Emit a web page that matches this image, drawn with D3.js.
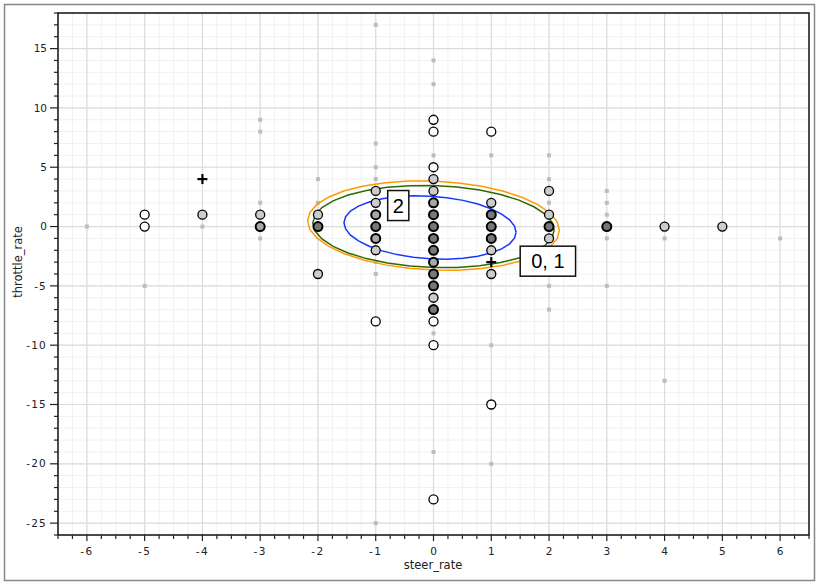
<!DOCTYPE html>
<html><head><meta charset="utf-8">
<script src="https://cdn.jsdelivr.net/npm/d3@7"></script>
<style>body{margin:0;background:#fff}svg{display:block}</style>
</head><body><svg id="c" width="819" height="582"></svg>
<script>
// background sample points (small gray squares): [steer_rate, throttle_rate]
const bgX = [-6,-5,-4,-3,-3,-3,-3,-2,-2,-1,-1,-1,-1,-1,-1,-1,0,0,0,0,0,1,1,1,2,2,2,2,2,3,3,3,3,3,4,4,6];
const bgY = [0,-5,0,9,8,2,-1,4,2,17,7,5,4,-3,-4,-25,14,12,6,-9,-19,6,-10,-20,6,4,2,-5,-7,3,2,1,-1,-5,-1,-13,-1];
// open circle points and their overlap density level (0..3)
const ptX = [-5,-5,-4,-3,-3,-2,-2,-2,-1,-1,-1,-1,-1,-1,-1,0,0,0,0,0,0,0,0,0,0,0,0,0,0,0,0,0,0,1,1,1,1,1,1,1,1,2,2,2,2,3,4,5];
const ptY = [1,0,1,1,0,1,0,-4,3,2,1,0,-1,-2,-8,9,8,5,4,3,2,1,0,-1,-2,-3,-4,-5,-6,-7,-8,-10,-23,8,2,1,0,-1,-2,-4,-15,3,1,0,-1,0,0,0];
const ptLevel = [0,0,1,1,2,1,3,1,1,1,2,3,2,1,0,0,0,0,1,1,2,3,3,3,3,2,3,3,1,3,0,0,0,0,1,3,3,3,1,1,0,1,1,3,1,3,1,1];
// plus markers
const plusX = [-4,1];
const plusY = [4,-3];
// contour ellipses: centre x, centre y, half-width, half-height, shear
const ellNames = ["orange","green","blue"];
const ellCx = [0.0, 0.0, -0.06];
const ellCy = [0.08, 0.0, -0.08];
const ellA = [2.18, 2.09, 1.49];
const ellB = [3.75, 3.45, 2.64];
const ellShear = [-0.4, -0.3, -0.4];
const ellColor = ["#ff9a00", "#2f6a00", "#1438ff"];
// cluster labels
const labText = ["2", "0, 1"];
const labX = [-0.61, 1.98];
const labY = [1.77, -2.92];
// ticks
const xTicks = [-6,-5,-4,-3,-2,-1,0,1,2,3,4,5,6];
const yTicks = [-25,-20,-15,-10,-5,0,5,10,15];

const svg = d3.select("#c");
const L = 58, R = 809, T = 13, B = 535;
const x = d3.scaleLinear().domain([-6.5, 6.5]).range([L, R]);
const y = d3.scaleLinear().domain([-26, 18]).range([B, T]);

// outer frame
svg.append("rect").attr("x",4.5).attr("y",4.5).attr("width",810).attr("height",576)
  .attr("fill","none").attr("stroke","#888").attr("stroke-width",1.5);

// minor grid
const g = svg.append("g");
d3.range(-6.5, 6.51, 0.25).forEach(v => g.append("line").attr("x1",x(v)).attr("x2",x(v)).attr("y1",T).attr("y2",B).attr("stroke","#f1f1f1").attr("stroke-width",1));
d3.range(-26, 18.01, 1).forEach(v => g.append("line").attr("y1",y(v)).attr("y2",y(v)).attr("x1",L).attr("x2",R).attr("stroke","#f1f1f1").attr("stroke-width",1));
// major grid
xTicks.forEach(v => g.append("line").attr("x1",x(v)).attr("x2",x(v)).attr("y1",T).attr("y2",B).attr("stroke","#dcdcdc").attr("stroke-width",1.2));
yTicks.forEach(v => g.append("line").attr("y1",y(v)).attr("y2",y(v)).attr("x1",L).attr("x2",R).attr("stroke","#dcdcdc").attr("stroke-width",1.2));

// background points
svg.append("g").selectAll("rect").data(bgX.map((d,i)=>[d,bgY[i]])).join("rect")
  .attr("x", d => x(d[0]) - 2).attr("y", d => y(d[1]) - 2).attr("width",4).attr("height",4)
  .attr("fill","#bdbdbd");

// ellipses
const lineGen = d3.line().x(d=>x(d[0])).y(d=>y(d[1]));
ellNames.forEach((n,i) => {
  const pts = d3.range(0, 2*Math.PI + 0.001, Math.PI/16).map(t => [
    ellCx[i] + ellA[i]*Math.cos(t),
    ellCy[i] + ellB[i]*Math.sin(t) + ellShear[i]*Math.cos(t)
  ]);
  svg.append("path").attr("d", lineGen(pts)).attr("fill","none")
    .attr("stroke", ellColor[i]).attr("stroke-width",1.5);
});

// circles
const fills = ["#ffffff","#cccccc","#a8a8a8","#777777"];
svg.append("g").selectAll("circle").data(ptX.map((d,i)=>[d,ptY[i],ptLevel[i]])).join("circle")
  .attr("cx", d => x(d[0])).attr("cy", d => y(d[1])).attr("r", 4.5)
  .attr("fill", d => fills[d[2]]).attr("stroke","#000")
  .attr("stroke-width", d => d[2] >= 2 ? 2 : 1.3);

// plus markers
const pg = svg.append("g");
plusX.forEach((px,i) => {
  const cx = x(px), cy = y(plusY[i]);
  pg.append("line").attr("x1",cx-5).attr("x2",cx+5).attr("y1",cy).attr("y2",cy).attr("stroke","#000").attr("stroke-width",2.2);
  pg.append("line").attr("x1",cx).attr("x2",cx).attr("y1",cy-5).attr("y2",cy+5).attr("stroke","#000").attr("stroke-width",2.2);
});

// labels
const labPad = [5, 11];
labText.forEach((t,i) => {
  const lg = svg.append("g");
  const tx = lg.append("text").attr("x", x(labX[i])).attr("y", y(labY[i]))
    .attr("text-anchor","middle").attr("dominant-baseline","central")
    .attr("font-family","Liberation Sans, Arial, sans-serif").attr("font-size",20).text(t);
  const bb = tx.node().getBBox();
  lg.insert("rect","text").attr("x", bb.x - labPad[i]).attr("y", y(labY[i]) - 15)
    .attr("width", bb.width + 2*labPad[i]).attr("height", 30)
    .attr("fill","#fff").attr("stroke","#111").attr("stroke-width",1.5);
});

// plot frame
svg.append("rect").attr("x",L).attr("y",T).attr("width",R-L).attr("height",B-T)
  .attr("fill","none").attr("stroke","#111").attr("stroke-width",1.5);

// axes
const font = "DejaVu Sans, Verdana, sans-serif";
const xa = svg.append("g").attr("transform",`translate(0,${B})`);
d3.range(-6.5, 6.51, 0.25).forEach(v => {
  const major = Math.abs(v - Math.round(v)) < 1e-6;
  xa.append("line").attr("x1",x(v)).attr("x2",x(v)).attr("y1",0).attr("y2", major ? 6 : 4).attr("stroke","#222").attr("stroke-width",1.2);
});
xTicks.forEach(v => xa.append("text").attr("x", x(v)).attr("y", 20).attr("text-anchor","middle")
  .attr("font-family",font).attr("font-size",10.5).attr("letter-spacing", v<0?"1.5px":"0").attr("fill","#222").text(v<0 ? "-" + Math.abs(v) : v));
const ya = svg.append("g").attr("transform",`translate(${L},0)`);
d3.range(-26, 18.01, 1).forEach(v => {
  const major = v % 5 === 0;
  ya.append("line").attr("y1",y(v)).attr("y2",y(v)).attr("x1",0).attr("x2", major ? -8 : -4).attr("stroke","#222").attr("stroke-width",1.2);
});
yTicks.forEach(v => ya.append("text").attr("x", -11).attr("y", y(v)).attr("dy","0.35em").attr("text-anchor","end")
  .attr("font-family",font).attr("font-size",10.5).attr("letter-spacing", v<0?"1.2px":"0").attr("fill","#222").text(v));

svg.append("text").attr("x", 433).attr("y", 569).attr("text-anchor","middle")
  .attr("font-family",font).attr("font-size",11.5).attr("fill","#222").text("steer_rate");
svg.append("text").attr("transform","translate(22,262) rotate(-90)").attr("text-anchor","middle")
  .attr("font-family",font).attr("font-size",11.5).attr("fill","#222").text("throttle_rate");
</script></body></html>
